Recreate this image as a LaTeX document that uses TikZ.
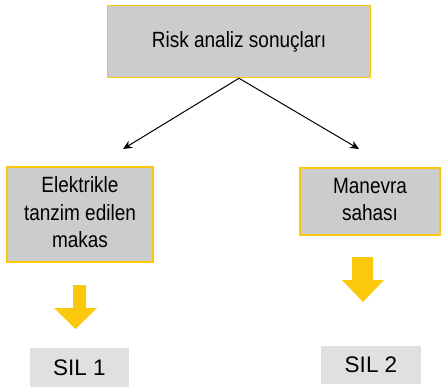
\documentclass[tikz,border=0pt]{standalone}
\usepackage{fontspec}
\setmainfont{Liberation Sans}
\usepackage{tikz}
\usetikzlibrary{arrows.meta}
\definecolor{riskgray}{RGB}{204,204,204}
\definecolor{silgray}{RGB}{224,224,224}
\definecolor{riskyellow}{RGB}{252,200,12}
\newcommand{\talltext}[1]{\scalebox{1}[1.16]{\begin{tabular}{@{}c@{}}#1\end{tabular}}}

\tikzset{
    riskbox/.style={draw=riskyellow, line width=1.5bp, fill=riskgray, inner sep=0pt, font=\fontsize{19bp}{24bp}\selectfont},
    silbox/.style={fill=silgray, inner sep=0pt, font=\fontsize{22.5bp}{26bp}\selectfont},
    pointer/.style={-{Stealth[length=9bp,width=8bp]}, line width=1bp},
    downarrow/.style={fill=riskyellow}
}

\begin{document}
\begin{tikzpicture}[x=1bp, y=-1bp]
    \useasboundingbox (0,0) rectangle (441,389);
    \node[riskbox, minimum width=263bp, minimum height=72bp] (results) at (239,41.5) {\talltext{Risk analiz sonuçları}};
    \node[riskbox, minimum width=146bp, minimum height=95bp] (switch) at (80,214.5) {\talltext{Elektrikle\\tanzim edilen\\makas}};
    \node[riskbox, minimum width=140bp, minimum height=67bp] (yard) at (370,201.5) {\talltext{Manevra\\sahası}};
    \coordinate (tipleft) at (123,149);
    \coordinate (tipright) at (359,149);
    \draw[pointer] (results.south) -- (tipleft);
    \draw[pointer] (results.south) -- (tipright);
    % yellow block arrows
    \fill[downarrow] (73,285) -- (86,285) -- (86,308) -- (97,308) -- (75.5,329) -- (54,308) -- (73,308) -- cycle;
    \fill[downarrow] (352,257) -- (373,257) -- (373,280) -- (384,280) -- (363,302) -- (342,280) -- (352,280) -- cycle;
    \node[silbox, minimum width=99bp, minimum height=39bp] (sil1) at (79.5,367.5) {SIL 1};
    \node[silbox, minimum width=100bp, minimum height=38bp] (sil2) at (371,365) {SIL 2};
\end{tikzpicture}
\end{document}
